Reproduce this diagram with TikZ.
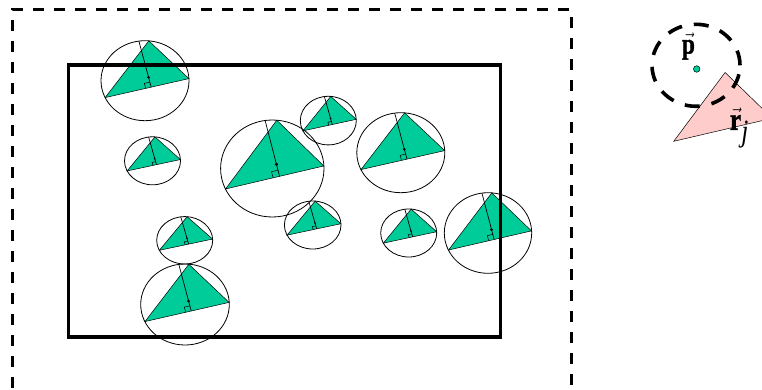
\documentclass[tikz,border=0pt]{standalone}
\usepackage{fontspec}
\setmainfont{Liberation Serif}
\newfontfamily\labelfont{Liberation Serif}[BoldFeatures={FakeBold=1.6}]
\usetikzlibrary{calc}
\definecolor{CellGreen}{RGB}{0,204,153}
\definecolor{QueryPink}{RGB}{255,204,204}
\tikzset{
  cellfill/.style={fill=CellGreen,draw=black,line width=0.5pt},
  hull/.style={draw=black,line width=0.8pt},
  perp/.style={draw=black,line width=0.7pt},
  frame/.style={draw=black,line width=3.2pt},
  outerframe/.style={draw=black,line width=2.6pt,dash pattern=on 11pt off 10pt},
  probe/.style={draw=black,line width=3.6pt,dash pattern=on 15pt off 12pt},
  querytri/.style={fill=QueryPink,draw=black,line width=0.5pt},
  biglabel/.style={inner sep=0pt,anchor=base west}
}
% one triangle with its circumscribing circle
\newcommand{\tricell}[4]{%
  \begin{scope}[shift={(#1,#2)},xscale=#3,yscale=#4]
    \coordinate (A) at (85:1);
    \coordinate (L) at (205:1);
    \coordinate (R) at (3:1);
    \coordinate (D) at (0.08,0.085);
    \coordinate (T) at (98:1);
    \coordinate (F) at ($(L)!(D)!(R)$);
    \coordinate (F1) at ($(F)!0.12!(L)$);
    \coordinate (F3) at ($(F)!0.11!(T)$);
    \draw[cellfill] (A) -- (L) -- (R) -- cycle;
    \draw[hull] (0,0) circle (1);
    \draw[perp] (T) -- (F);
    \draw[line width=0.5pt] (F1) -- ($(F1)+(F3)-(F)$) -- (F3);
    \fill (D) circle (0.035);
  \end{scope}}

\begin{document}
\begin{tikzpicture}[x=1pt,y=1pt]
  \useasboundingbox (0,0) rectangle (762,389);
  \clip (0,0) rectangle (762,389);
  % cells
  \tricell{145}{308.3}{44}{40}
  \tricell{152.5}{228.2}{28}{24}
  \tricell{272.3}{220.5}{51.7}{48.5}
  \tricell{328.3}{268.4}{28}{24.3}
  \tricell{400.8}{236.3}{44}{40}
  \tricell{184.7}{148.7}{28}{23.7}
  \tricell{312.7}{164}{28.3}{24}
  \tricell{408.7}{156}{28}{24}
  \tricell{488}{156}{43.7}{40.3}
  \tricell{185}{84.5}{44.3}{40.5}
  % frames
  \draw[frame] (68.5,52) rectangle (500.7,324);
  \draw[outerframe] (12.7,-20) -- (12.7,379.5) -- (571.7,379.5) -- (571.7,-20);
  % query on the right
  \begin{scope}[shift={(720.6,268.2)},xscale=51.7,yscale=48.5]
    \draw[querytri] (85:1) -- (205:1) -- (3:1) -- cycle;
  \end{scope}
  \draw[probe] (696,323.7) ellipse (44 and 41);
  \node[circle,fill=CellGreen,draw=black,line width=0.5pt,minimum size=6.5pt,inner sep=0pt] (pdot) at (696.7,320) {};
  \node[biglabel] (plabel) at (681.8,335.5)
    {\scalebox{0.8}[1]{\fontsize{29}{31}\selectfont$\vec{\mbox{\labelfont\bfseries p}}$}};
  \node[biglabel] (rlabel) at (729.8,259.2)
    {\scalebox{0.82}[1]{\fontsize{31}{33}\selectfont$\vec{\mbox{\labelfont\bfseries r}}_{\mbox{\itshape j}}$}};
\end{tikzpicture}
\end{document}
